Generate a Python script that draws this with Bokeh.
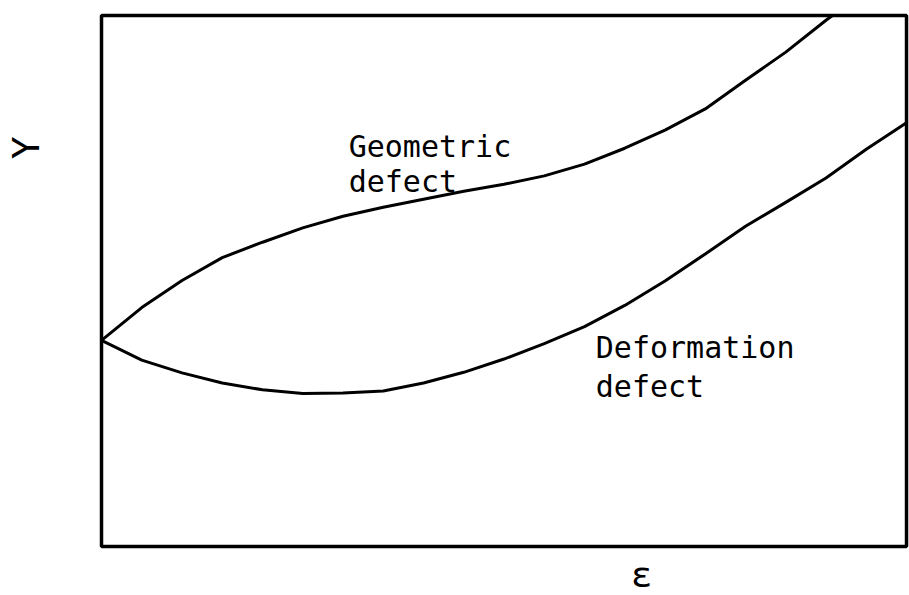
from bokeh.plotting import figure
from bokeh.models import Range1d
from bokeh.core.properties import value
from bokeh.embed import file_html
from bokeh.resources import INLINE

# Strain (epsilon) and yield-type response Y for the two defect mechanisms
eps_geometric = [0.0, 0.5, 1.0, 1.5, 2.0, 2.5, 3.0, 3.5, 4.0, 4.5, 5.0, 5.5,
                 6.0, 6.5, 7.0, 7.5, 8.0, 8.5, 9.0, 9.08]
y_geometric = [3.88, 4.50, 5.01, 5.44, 5.73, 6.00, 6.22, 6.39, 6.54, 6.69, 6.82, 6.98,
               7.20, 7.50, 7.84, 8.24, 8.78, 9.31, 9.91, 10.0]

eps_deformation = [0.0, 0.5, 1.0, 1.5, 2.0, 2.5, 3.0, 3.5, 4.0, 4.5, 5.0, 5.5,
                   6.0, 6.5, 7.0, 7.5, 8.0, 8.5, 9.0, 9.5, 10.0]
y_deformation = [3.88, 3.51, 3.27, 3.08, 2.95, 2.88, 2.89, 2.93, 3.08, 3.28, 3.53, 3.82,
                 4.14, 4.54, 5.00, 5.51, 6.03, 6.48, 6.94, 7.48, 7.98]

# Axis extents of the boxed plot region
eps_min, eps_max = 0.0, 10.0
y_min, y_max = 0.0, 10.0

# Curve labels (one entry per text line)
label_lines = ["Geometric", "defect", "Deformation", "defect"]
label_eps = [3.07, 3.07, 6.14, 6.14]
label_y = [7.53, 6.87, 3.75, 3.01]

font = "DejaVu Sans Mono"

p = figure(width=909, height=595, output_backend="svg", toolbar_location=None,
           x_range=Range1d(-1.2547, 10.037), y_range=Range1d(-0.9228, 10.282),
           x_axis_type=None, y_axis_type=None, min_border=0)
p.grid.visible = False
p.outline_line_color = None
p.background_fill_color = "white"
p.border_fill_color = "white"

# Box around the plot region
p.quad(left=[eps_min], right=[eps_max], bottom=[y_min], top=[y_max],
       fill_alpha=0, line_color="black", line_width=3.5)

p.line(eps_geometric, y_geometric, line_color="black", line_width=3,
       line_join="round")
p.line(eps_deformation, y_deformation, line_color="black", line_width=3,
       line_join="round")

p.text(x=label_eps, y=label_y, text=label_lines, text_font=value(font),
       text_font_size="30px", text_color="black",
       text_align="left", text_baseline="alphabetic")

# Axis symbols
p.text(x=[-0.944], y=[7.51], text=["Y"], text_font=value(font),
       text_font_size="38px", text_color="black", angle=1.5708,
       text_align="center", text_baseline="middle")
p.text(x=[6.71], y=[-0.53], text=["ε"], text_font=value(font),
       text_font_size="36px", text_color="black",
       text_align="center", text_baseline="middle")

open("out.html", "w").write(file_html(p, INLINE))
